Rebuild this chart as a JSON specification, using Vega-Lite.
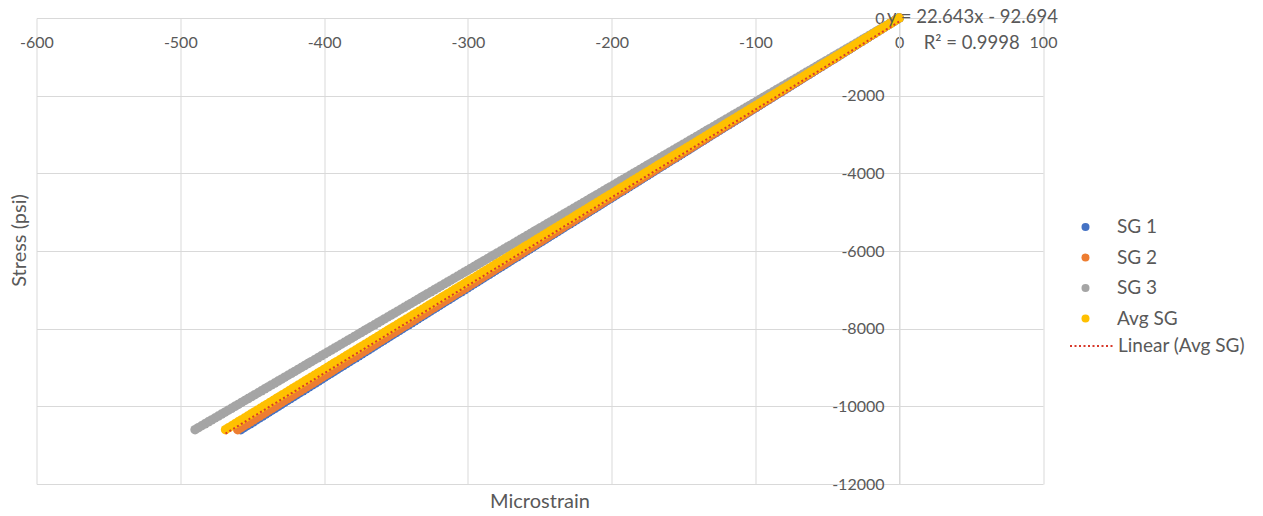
{
  "$schema": "https://vega.github.io/schema/vega-lite/v6.json",
  "width": 1006.5,
  "height": 466,
  "autosize": {"type": "none"},
  "padding": {"left": 36.5, "top": 18, "right": 220, "bottom": 32},
  "background": "white",
  "config": {
    "view": {"stroke": null},
    "font": "Lato",
    "text": {"font": "Lato"}
  },
  "datasets": {
    "readings": [
      {"Stress":0,"SG 1":0,"SG 2":0,"SG 3":0,"Avg SG":0},
      {"Stress":-50,"SG 1":-2.16,"SG 2":-2.17,"SG 3":-2.31,"Avg SG":-2.21},
      {"Stress":-100,"SG 1":-4.32,"SG 2":-4.34,"SG 3":-4.62,"Avg SG":-4.42},
      {"Stress":-150,"SG 1":-6.48,"SG 2":-6.51,"SG 3":-6.93,"Avg SG":-6.63},
      {"Stress":-200,"SG 1":-8.64,"SG 2":-8.68,"SG 3":-9.24,"Avg SG":-8.84},
      {"Stress":-250,"SG 1":-10.8,"SG 2":-10.85,"SG 3":-11.55,"Avg SG":-11.05},
      {"Stress":-300,"SG 1":-12.96,"SG 2":-13.02,"SG 3":-13.86,"Avg SG":-13.26},
      {"Stress":-350,"SG 1":-15.12,"SG 2":-15.19,"SG 3":-16.17,"Avg SG":-15.47},
      {"Stress":-400,"SG 1":-17.28,"SG 2":-17.36,"SG 3":-18.48,"Avg SG":-17.68},
      {"Stress":-450,"SG 1":-19.44,"SG 2":-19.53,"SG 3":-20.79,"Avg SG":-19.89},
      {"Stress":-500,"SG 1":-21.6,"SG 2":-21.7,"SG 3":-23.1,"Avg SG":-22.1},
      {"Stress":-550,"SG 1":-23.76,"SG 2":-23.87,"SG 3":-25.41,"Avg SG":-24.31},
      {"Stress":-600,"SG 1":-25.92,"SG 2":-26.04,"SG 3":-27.72,"Avg SG":-26.52},
      {"Stress":-650,"SG 1":-28.08,"SG 2":-28.21,"SG 3":-30.03,"Avg SG":-28.73},
      {"Stress":-700,"SG 1":-30.24,"SG 2":-30.38,"SG 3":-32.34,"Avg SG":-30.94},
      {"Stress":-750,"SG 1":-32.4,"SG 2":-32.55,"SG 3":-34.65,"Avg SG":-33.15},
      {"Stress":-800,"SG 1":-34.56,"SG 2":-34.72,"SG 3":-36.96,"Avg SG":-35.36},
      {"Stress":-850,"SG 1":-36.72,"SG 2":-36.89,"SG 3":-39.27,"Avg SG":-37.57},
      {"Stress":-900,"SG 1":-38.88,"SG 2":-39.06,"SG 3":-41.58,"Avg SG":-39.78},
      {"Stress":-950,"SG 1":-41.04,"SG 2":-41.23,"SG 3":-43.89,"Avg SG":-41.99},
      {"Stress":-1000,"SG 1":-43.2,"SG 2":-43.4,"SG 3":-46.2,"Avg SG":-44.2},
      {"Stress":-1050,"SG 1":-45.36,"SG 2":-45.57,"SG 3":-48.51,"Avg SG":-46.41},
      {"Stress":-1100,"SG 1":-47.52,"SG 2":-47.74,"SG 3":-50.82,"Avg SG":-48.62},
      {"Stress":-1150,"SG 1":-49.68,"SG 2":-49.91,"SG 3":-53.13,"Avg SG":-50.83},
      {"Stress":-1200,"SG 1":-51.84,"SG 2":-52.08,"SG 3":-55.44,"Avg SG":-53.04},
      {"Stress":-1250,"SG 1":-54,"SG 2":-54.25,"SG 3":-57.75,"Avg SG":-55.25},
      {"Stress":-1300,"SG 1":-56.16,"SG 2":-56.42,"SG 3":-60.06,"Avg SG":-57.46},
      {"Stress":-1350,"SG 1":-58.32,"SG 2":-58.59,"SG 3":-62.37,"Avg SG":-59.67},
      {"Stress":-1400,"SG 1":-60.48,"SG 2":-60.76,"SG 3":-64.68,"Avg SG":-61.88},
      {"Stress":-1450,"SG 1":-62.64,"SG 2":-62.93,"SG 3":-66.99,"Avg SG":-64.09},
      {"Stress":-1500,"SG 1":-64.8,"SG 2":-65.1,"SG 3":-69.3,"Avg SG":-66.3},
      {"Stress":-1550,"SG 1":-66.96,"SG 2":-67.27,"SG 3":-71.61,"Avg SG":-68.51},
      {"Stress":-1600,"SG 1":-69.12,"SG 2":-69.44,"SG 3":-73.92,"Avg SG":-70.72},
      {"Stress":-1650,"SG 1":-71.28,"SG 2":-71.61,"SG 3":-76.23,"Avg SG":-72.93},
      {"Stress":-1700,"SG 1":-73.44,"SG 2":-73.78,"SG 3":-78.54,"Avg SG":-75.14},
      {"Stress":-1750,"SG 1":-75.6,"SG 2":-75.95,"SG 3":-80.85,"Avg SG":-77.35},
      {"Stress":-1800,"SG 1":-77.76,"SG 2":-78.12,"SG 3":-83.16,"Avg SG":-79.56},
      {"Stress":-1850,"SG 1":-79.92,"SG 2":-80.29,"SG 3":-85.47,"Avg SG":-81.77},
      {"Stress":-1900,"SG 1":-82.08,"SG 2":-82.46,"SG 3":-87.78,"Avg SG":-83.98},
      {"Stress":-1950,"SG 1":-84.24,"SG 2":-84.63,"SG 3":-90.09,"Avg SG":-86.19},
      {"Stress":-2000,"SG 1":-86.4,"SG 2":-86.8,"SG 3":-92.4,"Avg SG":-88.4},
      {"Stress":-2050,"SG 1":-88.56,"SG 2":-88.97,"SG 3":-94.71,"Avg SG":-90.61},
      {"Stress":-2100,"SG 1":-90.72,"SG 2":-91.14,"SG 3":-97.02,"Avg SG":-92.82},
      {"Stress":-2150,"SG 1":-92.88,"SG 2":-93.31,"SG 3":-99.33,"Avg SG":-95.03},
      {"Stress":-2200,"SG 1":-95.04,"SG 2":-95.48,"SG 3":-101.64,"Avg SG":-97.24},
      {"Stress":-2250,"SG 1":-97.2,"SG 2":-97.65,"SG 3":-103.95,"Avg SG":-99.45},
      {"Stress":-2300,"SG 1":-99.36,"SG 2":-99.82,"SG 3":-106.26,"Avg SG":-101.66},
      {"Stress":-2350,"SG 1":-101.52,"SG 2":-101.99,"SG 3":-108.57,"Avg SG":-103.87},
      {"Stress":-2400,"SG 1":-103.68,"SG 2":-104.16,"SG 3":-110.88,"Avg SG":-106.08},
      {"Stress":-2450,"SG 1":-105.84,"SG 2":-106.33,"SG 3":-113.19,"Avg SG":-108.29},
      {"Stress":-2500,"SG 1":-108,"SG 2":-108.5,"SG 3":-115.5,"Avg SG":-110.5},
      {"Stress":-2550,"SG 1":-110.16,"SG 2":-110.67,"SG 3":-117.81,"Avg SG":-112.71},
      {"Stress":-2600,"SG 1":-112.32,"SG 2":-112.84,"SG 3":-120.12,"Avg SG":-114.92},
      {"Stress":-2650,"SG 1":-114.48,"SG 2":-115.01,"SG 3":-122.43,"Avg SG":-117.13},
      {"Stress":-2700,"SG 1":-116.64,"SG 2":-117.18,"SG 3":-124.74,"Avg SG":-119.34},
      {"Stress":-2750,"SG 1":-118.8,"SG 2":-119.35,"SG 3":-127.05,"Avg SG":-121.55},
      {"Stress":-2800,"SG 1":-120.96,"SG 2":-121.52,"SG 3":-129.36,"Avg SG":-123.76},
      {"Stress":-2850,"SG 1":-123.12,"SG 2":-123.69,"SG 3":-131.67,"Avg SG":-125.97},
      {"Stress":-2900,"SG 1":-125.28,"SG 2":-125.86,"SG 3":-133.98,"Avg SG":-128.18},
      {"Stress":-2950,"SG 1":-127.44,"SG 2":-128.03,"SG 3":-136.29,"Avg SG":-130.39},
      {"Stress":-3000,"SG 1":-129.6,"SG 2":-130.2,"SG 3":-138.6,"Avg SG":-132.6},
      {"Stress":-3050,"SG 1":-131.76,"SG 2":-132.37,"SG 3":-140.91,"Avg SG":-134.81},
      {"Stress":-3100,"SG 1":-133.92,"SG 2":-134.54,"SG 3":-143.22,"Avg SG":-137.02},
      {"Stress":-3150,"SG 1":-136.08,"SG 2":-136.71,"SG 3":-145.53,"Avg SG":-139.23},
      {"Stress":-3200,"SG 1":-138.24,"SG 2":-138.88,"SG 3":-147.84,"Avg SG":-141.44},
      {"Stress":-3250,"SG 1":-140.4,"SG 2":-141.05,"SG 3":-150.15,"Avg SG":-143.65},
      {"Stress":-3300,"SG 1":-142.56,"SG 2":-143.22,"SG 3":-152.46,"Avg SG":-145.86},
      {"Stress":-3350,"SG 1":-144.72,"SG 2":-145.39,"SG 3":-154.77,"Avg SG":-148.07},
      {"Stress":-3400,"SG 1":-146.88,"SG 2":-147.56,"SG 3":-157.08,"Avg SG":-150.28},
      {"Stress":-3450,"SG 1":-149.04,"SG 2":-149.73,"SG 3":-159.39,"Avg SG":-152.49},
      {"Stress":-3500,"SG 1":-151.2,"SG 2":-151.9,"SG 3":-161.7,"Avg SG":-154.7},
      {"Stress":-3550,"SG 1":-153.36,"SG 2":-154.07,"SG 3":-164.01,"Avg SG":-156.91},
      {"Stress":-3600,"SG 1":-155.52,"SG 2":-156.24,"SG 3":-166.32,"Avg SG":-159.12},
      {"Stress":-3650,"SG 1":-157.68,"SG 2":-158.41,"SG 3":-168.63,"Avg SG":-161.33},
      {"Stress":-3700,"SG 1":-159.84,"SG 2":-160.58,"SG 3":-170.94,"Avg SG":-163.54},
      {"Stress":-3750,"SG 1":-162,"SG 2":-162.75,"SG 3":-173.25,"Avg SG":-165.75},
      {"Stress":-3800,"SG 1":-164.16,"SG 2":-164.92,"SG 3":-175.56,"Avg SG":-167.96},
      {"Stress":-3850,"SG 1":-166.32,"SG 2":-167.09,"SG 3":-177.87,"Avg SG":-170.17},
      {"Stress":-3900,"SG 1":-168.48,"SG 2":-169.26,"SG 3":-180.18,"Avg SG":-172.38},
      {"Stress":-3950,"SG 1":-170.64,"SG 2":-171.43,"SG 3":-182.49,"Avg SG":-174.59},
      {"Stress":-4000,"SG 1":-172.8,"SG 2":-173.6,"SG 3":-184.8,"Avg SG":-176.8},
      {"Stress":-4050,"SG 1":-174.96,"SG 2":-175.77,"SG 3":-187.11,"Avg SG":-179.01},
      {"Stress":-4100,"SG 1":-177.12,"SG 2":-177.94,"SG 3":-189.42,"Avg SG":-181.22},
      {"Stress":-4150,"SG 1":-179.28,"SG 2":-180.11,"SG 3":-191.73,"Avg SG":-183.43},
      {"Stress":-4200,"SG 1":-181.44,"SG 2":-182.28,"SG 3":-194.04,"Avg SG":-185.64},
      {"Stress":-4250,"SG 1":-183.6,"SG 2":-184.45,"SG 3":-196.35,"Avg SG":-187.85},
      {"Stress":-4300,"SG 1":-185.76,"SG 2":-186.62,"SG 3":-198.66,"Avg SG":-190.06},
      {"Stress":-4350,"SG 1":-187.92,"SG 2":-188.79,"SG 3":-200.97,"Avg SG":-192.27},
      {"Stress":-4400,"SG 1":-190.08,"SG 2":-190.96,"SG 3":-203.28,"Avg SG":-194.48},
      {"Stress":-4450,"SG 1":-192.24,"SG 2":-193.13,"SG 3":-205.59,"Avg SG":-196.69},
      {"Stress":-4500,"SG 1":-194.4,"SG 2":-195.3,"SG 3":-207.9,"Avg SG":-198.9},
      {"Stress":-4550,"SG 1":-196.56,"SG 2":-197.47,"SG 3":-210.21,"Avg SG":-201.11},
      {"Stress":-4600,"SG 1":-198.72,"SG 2":-199.64,"SG 3":-212.52,"Avg SG":-203.32},
      {"Stress":-4650,"SG 1":-200.88,"SG 2":-201.81,"SG 3":-214.83,"Avg SG":-205.53},
      {"Stress":-4700,"SG 1":-203.04,"SG 2":-203.98,"SG 3":-217.14,"Avg SG":-207.74},
      {"Stress":-4750,"SG 1":-205.2,"SG 2":-206.15,"SG 3":-219.45,"Avg SG":-209.95},
      {"Stress":-4800,"SG 1":-207.36,"SG 2":-208.32,"SG 3":-221.76,"Avg SG":-212.16},
      {"Stress":-4850,"SG 1":-209.52,"SG 2":-210.49,"SG 3":-224.07,"Avg SG":-214.37},
      {"Stress":-4900,"SG 1":-211.68,"SG 2":-212.66,"SG 3":-226.38,"Avg SG":-216.58},
      {"Stress":-4950,"SG 1":-213.84,"SG 2":-214.83,"SG 3":-228.69,"Avg SG":-218.79},
      {"Stress":-5000,"SG 1":-216,"SG 2":-217,"SG 3":-231,"Avg SG":-221},
      {"Stress":-5050,"SG 1":-218.16,"SG 2":-219.17,"SG 3":-233.31,"Avg SG":-223.21},
      {"Stress":-5100,"SG 1":-220.32,"SG 2":-221.34,"SG 3":-235.62,"Avg SG":-225.42},
      {"Stress":-5150,"SG 1":-222.48,"SG 2":-223.51,"SG 3":-237.93,"Avg SG":-227.63},
      {"Stress":-5200,"SG 1":-224.64,"SG 2":-225.68,"SG 3":-240.24,"Avg SG":-229.84},
      {"Stress":-5250,"SG 1":-226.8,"SG 2":-227.85,"SG 3":-242.55,"Avg SG":-232.05},
      {"Stress":-5300,"SG 1":-228.96,"SG 2":-230.02,"SG 3":-244.86,"Avg SG":-234.26},
      {"Stress":-5350,"SG 1":-231.12,"SG 2":-232.19,"SG 3":-247.17,"Avg SG":-236.47},
      {"Stress":-5400,"SG 1":-233.28,"SG 2":-234.36,"SG 3":-249.48,"Avg SG":-238.68},
      {"Stress":-5450,"SG 1":-235.44,"SG 2":-236.53,"SG 3":-251.79,"Avg SG":-240.89},
      {"Stress":-5500,"SG 1":-237.6,"SG 2":-238.7,"SG 3":-254.1,"Avg SG":-243.1},
      {"Stress":-5550,"SG 1":-239.76,"SG 2":-240.87,"SG 3":-256.41,"Avg SG":-245.31},
      {"Stress":-5600,"SG 1":-241.92,"SG 2":-243.04,"SG 3":-258.72,"Avg SG":-247.52},
      {"Stress":-5650,"SG 1":-244.08,"SG 2":-245.21,"SG 3":-261.03,"Avg SG":-249.73},
      {"Stress":-5700,"SG 1":-246.24,"SG 2":-247.38,"SG 3":-263.34,"Avg SG":-251.94},
      {"Stress":-5750,"SG 1":-248.4,"SG 2":-249.55,"SG 3":-265.65,"Avg SG":-254.15},
      {"Stress":-5800,"SG 1":-250.56,"SG 2":-251.72,"SG 3":-267.96,"Avg SG":-256.36},
      {"Stress":-5850,"SG 1":-252.72,"SG 2":-253.89,"SG 3":-270.27,"Avg SG":-258.57},
      {"Stress":-5900,"SG 1":-254.88,"SG 2":-256.06,"SG 3":-272.58,"Avg SG":-260.78},
      {"Stress":-5950,"SG 1":-257.04,"SG 2":-258.23,"SG 3":-274.89,"Avg SG":-262.99},
      {"Stress":-6000,"SG 1":-259.2,"SG 2":-260.4,"SG 3":-277.2,"Avg SG":-265.2},
      {"Stress":-6050,"SG 1":-261.36,"SG 2":-262.57,"SG 3":-279.51,"Avg SG":-267.41},
      {"Stress":-6100,"SG 1":-263.52,"SG 2":-264.74,"SG 3":-281.82,"Avg SG":-269.62},
      {"Stress":-6150,"SG 1":-265.68,"SG 2":-266.91,"SG 3":-284.13,"Avg SG":-271.83},
      {"Stress":-6200,"SG 1":-267.84,"SG 2":-269.08,"SG 3":-286.44,"Avg SG":-274.04},
      {"Stress":-6250,"SG 1":-270,"SG 2":-271.25,"SG 3":-288.75,"Avg SG":-276.25},
      {"Stress":-6300,"SG 1":-272.16,"SG 2":-273.42,"SG 3":-291.06,"Avg SG":-278.46},
      {"Stress":-6350,"SG 1":-274.32,"SG 2":-275.59,"SG 3":-293.37,"Avg SG":-280.67},
      {"Stress":-6400,"SG 1":-276.48,"SG 2":-277.76,"SG 3":-295.68,"Avg SG":-282.88},
      {"Stress":-6450,"SG 1":-278.64,"SG 2":-279.93,"SG 3":-297.99,"Avg SG":-285.09},
      {"Stress":-6500,"SG 1":-280.8,"SG 2":-282.1,"SG 3":-300.3,"Avg SG":-287.3},
      {"Stress":-6550,"SG 1":-282.96,"SG 2":-284.27,"SG 3":-302.61,"Avg SG":-289.51},
      {"Stress":-6600,"SG 1":-285.12,"SG 2":-286.44,"SG 3":-304.92,"Avg SG":-291.72},
      {"Stress":-6650,"SG 1":-287.28,"SG 2":-288.61,"SG 3":-307.23,"Avg SG":-293.93},
      {"Stress":-6700,"SG 1":-289.44,"SG 2":-290.78,"SG 3":-309.54,"Avg SG":-296.14},
      {"Stress":-6750,"SG 1":-291.6,"SG 2":-292.95,"SG 3":-311.85,"Avg SG":-298.35},
      {"Stress":-6800,"SG 1":-293.76,"SG 2":-295.12,"SG 3":-314.16,"Avg SG":-300.56},
      {"Stress":-6850,"SG 1":-295.92,"SG 2":-297.29,"SG 3":-316.47,"Avg SG":-302.77},
      {"Stress":-6900,"SG 1":-298.08,"SG 2":-299.46,"SG 3":-318.78,"Avg SG":-304.98},
      {"Stress":-6950,"SG 1":-300.24,"SG 2":-301.63,"SG 3":-321.09,"Avg SG":-307.19},
      {"Stress":-7000,"SG 1":-302.4,"SG 2":-303.8,"SG 3":-323.4,"Avg SG":-309.4},
      {"Stress":-7050,"SG 1":-304.56,"SG 2":-305.97,"SG 3":-325.71,"Avg SG":-311.61},
      {"Stress":-7100,"SG 1":-306.72,"SG 2":-308.14,"SG 3":-328.02,"Avg SG":-313.82},
      {"Stress":-7150,"SG 1":-308.88,"SG 2":-310.31,"SG 3":-330.33,"Avg SG":-316.03},
      {"Stress":-7200,"SG 1":-311.04,"SG 2":-312.48,"SG 3":-332.64,"Avg SG":-318.24},
      {"Stress":-7250,"SG 1":-313.2,"SG 2":-314.65,"SG 3":-334.95,"Avg SG":-320.45},
      {"Stress":-7300,"SG 1":-315.36,"SG 2":-316.82,"SG 3":-337.26,"Avg SG":-322.66},
      {"Stress":-7350,"SG 1":-317.52,"SG 2":-318.99,"SG 3":-339.57,"Avg SG":-324.87},
      {"Stress":-7400,"SG 1":-319.68,"SG 2":-321.16,"SG 3":-341.88,"Avg SG":-327.08},
      {"Stress":-7450,"SG 1":-321.84,"SG 2":-323.33,"SG 3":-344.19,"Avg SG":-329.29},
      {"Stress":-7500,"SG 1":-324,"SG 2":-325.5,"SG 3":-346.5,"Avg SG":-331.5},
      {"Stress":-7550,"SG 1":-326.16,"SG 2":-327.67,"SG 3":-348.81,"Avg SG":-333.71},
      {"Stress":-7600,"SG 1":-328.32,"SG 2":-329.84,"SG 3":-351.12,"Avg SG":-335.92},
      {"Stress":-7650,"SG 1":-330.48,"SG 2":-332.01,"SG 3":-353.43,"Avg SG":-338.13},
      {"Stress":-7700,"SG 1":-332.64,"SG 2":-334.18,"SG 3":-355.74,"Avg SG":-340.34},
      {"Stress":-7750,"SG 1":-334.8,"SG 2":-336.35,"SG 3":-358.05,"Avg SG":-342.55},
      {"Stress":-7800,"SG 1":-336.96,"SG 2":-338.52,"SG 3":-360.36,"Avg SG":-344.76},
      {"Stress":-7850,"SG 1":-339.12,"SG 2":-340.69,"SG 3":-362.67,"Avg SG":-346.97},
      {"Stress":-7900,"SG 1":-341.28,"SG 2":-342.86,"SG 3":-364.98,"Avg SG":-349.18},
      {"Stress":-7950,"SG 1":-343.44,"SG 2":-345.03,"SG 3":-367.29,"Avg SG":-351.39},
      {"Stress":-8000,"SG 1":-345.6,"SG 2":-347.2,"SG 3":-369.6,"Avg SG":-353.6},
      {"Stress":-8050,"SG 1":-347.76,"SG 2":-349.37,"SG 3":-371.91,"Avg SG":-355.81},
      {"Stress":-8100,"SG 1":-349.92,"SG 2":-351.54,"SG 3":-374.22,"Avg SG":-358.02},
      {"Stress":-8150,"SG 1":-352.08,"SG 2":-353.71,"SG 3":-376.53,"Avg SG":-360.23},
      {"Stress":-8200,"SG 1":-354.24,"SG 2":-355.88,"SG 3":-378.84,"Avg SG":-362.44},
      {"Stress":-8250,"SG 1":-356.4,"SG 2":-358.05,"SG 3":-381.15,"Avg SG":-364.65},
      {"Stress":-8300,"SG 1":-358.56,"SG 2":-360.22,"SG 3":-383.46,"Avg SG":-366.86},
      {"Stress":-8350,"SG 1":-360.72,"SG 2":-362.39,"SG 3":-385.77,"Avg SG":-369.07},
      {"Stress":-8400,"SG 1":-362.88,"SG 2":-364.56,"SG 3":-388.08,"Avg SG":-371.28},
      {"Stress":-8450,"SG 1":-365.04,"SG 2":-366.73,"SG 3":-390.39,"Avg SG":-373.49},
      {"Stress":-8500,"SG 1":-367.2,"SG 2":-368.9,"SG 3":-392.7,"Avg SG":-375.7},
      {"Stress":-8550,"SG 1":-369.36,"SG 2":-371.07,"SG 3":-395.01,"Avg SG":-377.91},
      {"Stress":-8600,"SG 1":-371.52,"SG 2":-373.24,"SG 3":-397.32,"Avg SG":-380.12},
      {"Stress":-8650,"SG 1":-373.68,"SG 2":-375.41,"SG 3":-399.63,"Avg SG":-382.33},
      {"Stress":-8700,"SG 1":-375.84,"SG 2":-377.58,"SG 3":-401.94,"Avg SG":-384.54},
      {"Stress":-8750,"SG 1":-378,"SG 2":-379.75,"SG 3":-404.25,"Avg SG":-386.75},
      {"Stress":-8800,"SG 1":-380.16,"SG 2":-381.92,"SG 3":-406.56,"Avg SG":-388.96},
      {"Stress":-8850,"SG 1":-382.32,"SG 2":-384.09,"SG 3":-408.87,"Avg SG":-391.17},
      {"Stress":-8900,"SG 1":-384.48,"SG 2":-386.26,"SG 3":-411.18,"Avg SG":-393.38},
      {"Stress":-8950,"SG 1":-386.64,"SG 2":-388.43,"SG 3":-413.49,"Avg SG":-395.59},
      {"Stress":-9000,"SG 1":-388.8,"SG 2":-390.6,"SG 3":-415.8,"Avg SG":-397.8},
      {"Stress":-9050,"SG 1":-390.96,"SG 2":-392.77,"SG 3":-418.11,"Avg SG":-400.01},
      {"Stress":-9100,"SG 1":-393.12,"SG 2":-394.94,"SG 3":-420.42,"Avg SG":-402.22},
      {"Stress":-9150,"SG 1":-395.28,"SG 2":-397.11,"SG 3":-422.73,"Avg SG":-404.43},
      {"Stress":-9200,"SG 1":-397.44,"SG 2":-399.28,"SG 3":-425.04,"Avg SG":-406.64},
      {"Stress":-9250,"SG 1":-399.6,"SG 2":-401.45,"SG 3":-427.35,"Avg SG":-408.85},
      {"Stress":-9300,"SG 1":-401.76,"SG 2":-403.62,"SG 3":-429.66,"Avg SG":-411.06},
      {"Stress":-9350,"SG 1":-403.92,"SG 2":-405.79,"SG 3":-431.97,"Avg SG":-413.27},
      {"Stress":-9400,"SG 1":-406.08,"SG 2":-407.96,"SG 3":-434.28,"Avg SG":-415.48},
      {"Stress":-9450,"SG 1":-408.24,"SG 2":-410.13,"SG 3":-436.59,"Avg SG":-417.69},
      {"Stress":-9500,"SG 1":-410.4,"SG 2":-412.3,"SG 3":-438.9,"Avg SG":-419.9},
      {"Stress":-9550,"SG 1":-412.56,"SG 2":-414.47,"SG 3":-441.21,"Avg SG":-422.11},
      {"Stress":-9600,"SG 1":-414.72,"SG 2":-416.64,"SG 3":-443.52,"Avg SG":-424.32},
      {"Stress":-9650,"SG 1":-416.88,"SG 2":-418.81,"SG 3":-445.83,"Avg SG":-426.53},
      {"Stress":-9700,"SG 1":-419.04,"SG 2":-420.98,"SG 3":-448.14,"Avg SG":-428.74},
      {"Stress":-9750,"SG 1":-421.2,"SG 2":-423.15,"SG 3":-450.45,"Avg SG":-430.95},
      {"Stress":-9800,"SG 1":-423.36,"SG 2":-425.32,"SG 3":-452.76,"Avg SG":-433.16},
      {"Stress":-9850,"SG 1":-425.52,"SG 2":-427.49,"SG 3":-455.07,"Avg SG":-435.37},
      {"Stress":-9900,"SG 1":-427.68,"SG 2":-429.66,"SG 3":-457.38,"Avg SG":-437.58},
      {"Stress":-9950,"SG 1":-429.84,"SG 2":-431.83,"SG 3":-459.69,"Avg SG":-439.79},
      {"Stress":-10000,"SG 1":-432,"SG 2":-434,"SG 3":-462,"Avg SG":-442},
      {"Stress":-10050,"SG 1":-434.16,"SG 2":-436.17,"SG 3":-464.31,"Avg SG":-444.21},
      {"Stress":-10100,"SG 1":-436.32,"SG 2":-438.34,"SG 3":-466.62,"Avg SG":-446.42},
      {"Stress":-10150,"SG 1":-438.48,"SG 2":-440.51,"SG 3":-468.93,"Avg SG":-448.63},
      {"Stress":-10200,"SG 1":-440.64,"SG 2":-442.68,"SG 3":-471.24,"Avg SG":-450.84},
      {"Stress":-10250,"SG 1":-442.8,"SG 2":-444.85,"SG 3":-473.55,"Avg SG":-453.05},
      {"Stress":-10300,"SG 1":-444.96,"SG 2":-447.02,"SG 3":-475.86,"Avg SG":-455.26},
      {"Stress":-10350,"SG 1":-447.12,"SG 2":-449.19,"SG 3":-478.17,"Avg SG":-457.47},
      {"Stress":-10400,"SG 1":-449.28,"SG 2":-451.36,"SG 3":-480.48,"Avg SG":-459.68},
      {"Stress":-10450,"SG 1":-451.44,"SG 2":-453.53,"SG 3":-482.79,"Avg SG":-461.89},
      {"Stress":-10500,"SG 1":-453.6,"SG 2":-455.7,"SG 3":-485.1,"Avg SG":-464.1},
      {"Stress":-10550,"SG 1":-455.76,"SG 2":-457.87,"SG 3":-487.41,"Avg SG":-466.31},
      {"Stress":-10600,"SG 1":-457.92,"SG 2":-460.04,"SG 3":-489.72,"Avg SG":-468.52}
    ],
    "fit": [
      {"Microstrain": -468.52, "Stress": -10701.4, "Fit": "Linear (Avg SG)"},
      {"Microstrain": 0, "Stress": -92.694, "Fit": "Linear (Avg SG)"}
    ],
    "notes": [
      {"Microstrain": -8.5, "Stress": 26, "Note": "y = 22.643x - 92.694"},
      {"Microstrain": 17, "Stress": -644, "Note": "R² = 0.9998"}
    ]
  },
  "layer": [
    {
      "data": {"name": "readings"},
      "encoding": {
        "x": {
          "field": "Microstrain",
          "type": "quantitative",
          "scale": {"domain": [-600, 100], "nice": false, "zero": false},
          "axis": {
            "orient": "bottom",
            "offset": -466,
            "values": [-600, -500, -400, -300, -200, -100, 0, 100],
            "labelExpr": "datum.value + ''",
            "grid": true,
            "gridColor": "#d9d9d9",
            "gridWidth": 1,
            "domainColor": "#d9d9d9",
            "domainWidth": 1,
            "ticks": false,
            "labelPadding": 16,
            "labelFont": "Lato",
            "labelFontSize": 16,
            "labelColor": "#595959",
            "labelFlush": false,
            "labelOverlap": false,
            "labelBound": false,
            "title": "Microstrain",
            "titleFont": "Lato",
            "titleFontSize": 20,
            "titleFontWeight": "normal",
            "titleColor": "#595959",
            "titleX": 503,
            "titleY": 483,
            "titleAlign": "center",
            "titleBaseline": "middle"
          }
        },
        "y": {
          "field": "Stress",
          "type": "quantitative",
          "scale": {"domain": [-12000, 0], "nice": false, "zero": false},
          "axis": {
            "orient": "left",
            "offset": -862.5,
            "values": [-12000, -10000, -8000, -6000, -4000, -2000, 0],
            "labelExpr": "datum.value + ''",
            "grid": true,
            "gridColor": "#d9d9d9",
            "gridWidth": 1,
            "domainColor": "#d9d9d9",
            "domainWidth": 1,
            "ticks": false,
            "labelPadding": 15,
            "labelFont": "Lato",
            "labelFontSize": 16,
            "labelColor": "#595959",
            "labelFlush": false,
            "labelOverlap": false,
            "labelBound": false,
            "title": "Stress (psi)",
            "titleFont": "Lato",
            "titleFontSize": 20,
            "titleFontWeight": "normal",
            "titleColor": "#595959",
            "titleAngle": -90,
            "titleX": -880,
            "titleY": 222,
            "titleAlign": "center",
            "titleBaseline": "middle"
          }
        },
        "color": {
          "field": "Gauge",
          "type": "nominal",
          "scale": {
            "domain": ["SG 1", "SG 2", "SG 3", "Avg SG"],
            "range": ["#4472c4", "#ed7d31", "#a5a5a5", "#ffc000"]
          },
          "legend": {
            "orient": "none",
            "legendX": 1039.5,
            "legendY": 199.5,
            "title": null,
            "padding": 0,
            "symbolType": "circle",
            "symbolSize": 64,
            "symbolStrokeWidth": 0,
            "labelFont": "Lato",
            "labelFontSize": 19,
            "labelColor": "#595959",
            "labelOffset": 22,
            "rowPadding": 10.5
          }
        }
      },
      "layer": [
        {
          "transform": [{"fold": ["SG 1"], "as": ["Gauge", "Microstrain"]}],
          "mark": {"type": "point", "filled": true, "size": 90, "opacity": 1}
        },
        {
          "transform": [{"fold": ["SG 2"], "as": ["Gauge", "Microstrain"]}],
          "mark": {"type": "point", "filled": true, "size": 90, "opacity": 1}
        },
        {
          "transform": [{"fold": ["SG 3"], "as": ["Gauge", "Microstrain"]}],
          "mark": {"type": "point", "filled": true, "size": 90, "opacity": 1}
        },
        {
          "transform": [{"fold": ["Avg SG"], "as": ["Gauge", "Microstrain"]}],
          "mark": {"type": "point", "filled": true, "size": 90, "opacity": 1}
        }
      ]
    },
    {
      "data": {"name": "fit"},
      "mark": {"type": "line", "color": "#d8392b", "strokeWidth": 2},
      "encoding": {
        "x": {"field": "Microstrain", "type": "quantitative"},
        "y": {"field": "Stress", "type": "quantitative"},
        "strokeDash": {
          "field": "Fit",
          "type": "nominal",
          "scale": {"domain": ["Linear (Avg SG)"], "range": [[2, 2.5]]},
          "legend": {
            "orient": "none",
            "legendX": 1032.5,
            "legendY": 305.5,
            "title": null,
            "padding": 0,
            "symbolType": "stroke",
            "symbolSize": 1849,
            "symbolStrokeColor": "#d8392b",
            "symbolStrokeWidth": 2,
            "labelFont": "Lato",
            "labelFontSize": 19,
            "labelColor": "#595959",
            "labelOffset": 4
          }
        }
      }
    },
    {
      "data": {"name": "notes"},
      "mark": {"type": "text", "align": "left", "baseline": "middle", "font": "Lato", "fontSize": 18.5, "color": "#595959"},
      "encoding": {
        "x": {"field": "Microstrain", "type": "quantitative"},
        "y": {"field": "Stress", "type": "quantitative"},
        "text": {"field": "Note", "type": "nominal"}
      }
    }
  ]
}
